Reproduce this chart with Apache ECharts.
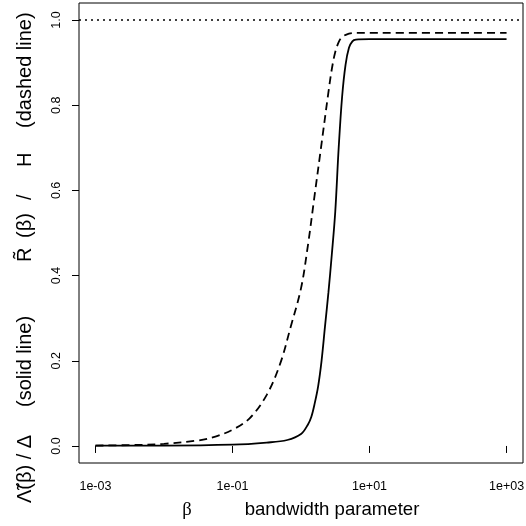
<!DOCTYPE html>
<html>
<head>
<meta charset="utf-8">
<script src="https://cdn.jsdelivr.net/npm/echarts@6/dist/echarts.min.js"></script>
<style>
  html, body { margin: 0; padding: 0; background: #fff; }
  #chart { width: 526px; height: 526px; }
</style>
</head>
<body>
<div id="chart"></div>
<script>
var solidExp = [-3, -2, -1, -0.5, -0.2, 0, 0.1, 0.15, 0.2, 0.25, 0.3, 0.35, 0.4, 0.45, 0.5, 0.55, 0.6, 0.65, 0.7, 0.75, 0.8, 1, 3];
var solidVal = [0.001, 0.001, 0.003, 0.008, 0.014, 0.028, 0.05, 0.068, 0.1, 0.14, 0.2, 0.28, 0.36, 0.45, 0.55, 0.7, 0.82, 0.895, 0.935, 0.95, 0.954, 0.955, 0.955];

var dashedExp = [-3, -2.5, -2, -1.5, -1.25, -1, -0.75, -0.5, -0.3, -0.15, 0, 0.1, 0.2, 0.3, 0.4, 0.45, 0.5, 0.55, 0.6, 0.7, 0.8, 3];
var dashedVal = [0.001, 0.002, 0.005, 0.013, 0.022, 0.038, 0.065, 0.12, 0.195, 0.28, 0.37, 0.47, 0.59, 0.71, 0.83, 0.885, 0.925, 0.948, 0.96, 0.968, 0.97, 0.97];

var refLine = 1;                         // dotted horizontal line
var xTicks = [1e-3, 1e-1, 1e1, 1e3];
var yTicks = [0, 0.2, 0.4, 0.6, 0.8, 1.0];

function toPairs(exps, vals) {
    return exps.map(function (e, i) { return [Math.pow(10, e), vals[i]]; });
}

function fmtExp(v) {
    var e = Math.round(Math.log10(v));
    return '1e' + (e < 0 ? '-' : '+') + String(Math.abs(e)).padStart(2, '0');
}

var font = '"Liberation Sans", Arial, Helvetica, sans-serif';
var serif = '"Liberation Serif", "Times New Roman", serif';
var chart = echarts.init(document.getElementById('chart'), null, { renderer: 'canvas' });

// rotated y-axis title pieces (reads bottom to top)
function vText(y, txt) {
    return {
        type: 'text', x: 25, y: y, rotation: Math.PI / 2,
        style: { text: txt, fill: '#000', font: '20px ' + font, align: 'left', verticalAlign: 'middle' }
    };
}

var option = {
    backgroundColor: '#fff',
    animation: false,
    grid: {
        left: 79, top: 3, right: 3, bottom: 63,
        show: true, borderColor: '#000', borderWidth: 1,
        outerBoundsMode: 'none'
    },
    xAxis: {
        type: 'log',
        logBase: 10,
        min: Math.pow(10, -3.24),
        max: Math.pow(10, 3.24),
        axisLine: { show: false },
        splitLine: { show: false },
        minorTick: { show: false },
        axisTick: { show: true, length: 7, inside: false, customValues: xTicks, lineStyle: { color: '#000', width: 1 } },
        axisLabel: {
            customValues: xTicks, formatter: fmtExp, margin: 17,
            color: '#000', fontSize: 12.5, fontFamily: font
        }
    },
    yAxis: {
        type: 'value',
        min: -0.04,
        max: 1.04,
        axisLine: { show: false },
        splitLine: { show: false },
        axisTick: { show: true, length: 7, inside: false, customValues: yTicks, lineStyle: { color: '#000', width: 1 } },
        axisLabel: {
            customValues: yTicks, rotate: 90, margin: 16,
            formatter: function (v) { return v.toFixed(1); },
            color: '#000', fontSize: 12.5, fontFamily: font
        }
    },
    graphic: [
        // upper title, spread out like the plotmath original
        vText(262, 'R\u0303'),
        vText(238, '(\u03b2)'),
        vText(200, '/'),
        vText(167, 'H'),
        vText(128, '(dashed line)'),
        vText(503, '\u039b\u0303(\u03b2) / \u0394'),
        vText(407, '(solid line)'),
        {
            type: 'text', x: 187, y: 510,
            style: { text: '\u03b2', fill: '#000', font: '18.6px ' + serif, align: 'center', verticalAlign: 'middle' }
        },
        {
            type: 'text', x: 332, y: 510,
            style: { text: 'bandwidth parameter', fill: '#000', font: '18.6px ' + font, align: 'center', verticalAlign: 'middle' }
        }
    ],
    series: [
        {
            name: 'solid',
            type: 'line',
            data: toPairs(solidExp, solidVal),
            showSymbol: false,
            smooth: 0.35,
            lineStyle: { color: '#000', width: 1.8, type: 'solid' },
            markLine: {
                silent: true,
                symbol: 'none',
                label: { show: false },
                lineStyle: { color: '#000', width: 1.5, type: [2, 4] },
                data: [{ yAxis: refLine }]
            }
        },
        {
            name: 'dashed',
            type: 'line',
            data: toPairs(dashedExp, dashedVal),
            showSymbol: false,
            smooth: 0.35,
            lineStyle: { color: '#000', width: 1.8, type: [8, 5] }
        }
    ]
};

chart.setOption(option);
</script>
</body>
</html>
